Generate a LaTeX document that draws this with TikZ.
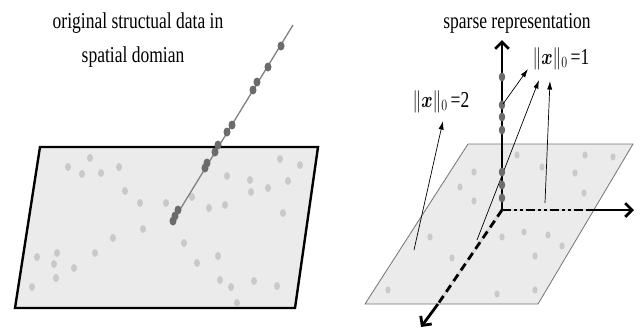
\documentclass[tikz,border=0pt]{standalone}
\usepackage{fontspec}
\setmainfont{Liberation Serif}
\usepackage{amsmath}
\usepackage{amssymb}
\usetikzlibrary{arrows.meta,positioning}

\newcommand{\tallfont}[1]{\scalebox{1}[1.3]{#1}}

\begin{document}
\begin{tikzpicture}[x=1pt, y=-1pt, every node/.style={font=\fontsize{17.5}{20}\selectfont, inner sep=0pt}]
        \tikzstyle{plane} = [fill=gray!16, line join=miter]
        \tikzstyle{dot} = [fill=gray!42]
        \tikzstyle{atom} = [fill=black!58]
        \tikzstyle{pointer} = [-{Latex[length=3mm,width=1.8mm]}, line width=0.7pt]
        \tikzstyle{axis} = [line width=2.8pt, -{Straight Barb[length=2.4mm,width=4.8mm]}]
        \tikzstyle{dashaxis} = [line width=2.8pt, dash pattern=on 9pt off 3pt on 3pt off 3pt on 3pt off 3pt]

        \useasboundingbox (0,0) rectangle (641,333);

        % left: original data
        \draw[plane, line width=2.4pt] (40,147) -- (318,147) -- (295,308) -- (15,308) -- cycle;
        \foreach \px/\py in {90/158, 68/167, 82/174, 101/173, 119/167, 125/191, 140/203, 166/203,
            192/197, 209/208, 225/205, 227/176, 250/180, 251/192, 268/188, 288/181, 300/165,
            280/159, 283/213, 143/229, 113/238, 184/243, 95/253, 57/253, 37/257, 54/264,
            74/268, 56/278, 32/287, 218/256, 197/263, 220/280, 231/287, 254/281, 277/286, 237/303}
            \fill[dot] (\px,\py) ellipse (3pt and 4pt);
        \coordinate (lowend) at (173,221);
        \coordinate (highend) at (293,25);
        \draw[gray, line width=1.3pt] (lowend) -- (highend);
        \foreach \px/\py in {281/46, 268/67, 257/82, 253/90, 232/125, 227/132, 218/145, 215/152,
            207/163, 205/168, 178/210, 175/216, 173/221}
            \fill[atom] (\px,\py) ellipse (3.5pt and 4.5pt);
        \node (orig) [anchor=base] at (138,28) {\tallfont{original structual data in}};
        \node (orig2) [anchor=base] at (133,62) {\tallfont{spatial domian}};

        % right: sparse representation
        \draw[plane, draw=gray!90!black, line width=0.8pt] (468,144) -- (633,144) -- (538,304) -- (365,304) -- cycle;
        \foreach \px/\py in {517/155, 542/167, 585/155, 613/157, 474/172, 460/187, 474/201,
            575/173, 584/193, 430/237, 452/258, 502/237, 524/232, 548/235, 562/246, 535/256,
            388/290, 497/294, 535/290}
            \fill[dot] (\px,\py) ellipse (2.6pt and 3.6pt);

        \node (sparse) [anchor=base] at (517,28) {\tallfont{sparse representation}};
        \node (one) [anchor=base] at (561,64) {\tallfont{$\lVert\boldsymbol{x}\rVert_0$\,=1}};
        \node (two) [anchor=base] at (441,107) {\tallfont{$\lVert\boldsymbol{x}\rVert_0$\,=2}};

        \coordinate (o) at (502,210);
        \coordinate (ztip) at (502,40);
        \coordinate (xedge) at (588,210);
        \coordinate (xtip) at (634,210);
        \coordinate (yedge) at (438,304);
        \coordinate (ytip) at (421,327);
        \coordinate (a1) at (503,104);
        \coordinate (h1) at (528,69);
        \coordinate (a2) at (477,240);
        \coordinate (h2) at (539,80);
        \coordinate (a3) at (545,203);
        \coordinate (h3) at (550,81);
        \coordinate (a4) at (414,250);
        \coordinate (h4) at (443,121);

        \draw[pointer] (a2) -- (h2);
        \draw[pointer] (a3) -- (h3);
        \draw[pointer] (a4) -- (h4);

        \draw[line width=2.8pt, gray!30] (o) -- (xedge);
        \draw[dashaxis] (o) -- (xedge);
        \draw[axis] (xedge) -- (xtip);
        \draw[line width=2.8pt, gray!30] (o) -- (yedge);
        \draw[line width=2.8pt, dash pattern=on 8pt off 5pt] (o) -- (yedge);
        \draw[axis] (yedge) -- (ytip);
        \draw[axis] (o) -- (ztip);
        \foreach \py in {77, 105, 117, 130, 172, 185, 198}
            \fill[atom] (502,\py) ellipse (3.2pt and 4.5pt);
        \draw[pointer] (a1) -- (h1);
\end{tikzpicture}
\end{document}
